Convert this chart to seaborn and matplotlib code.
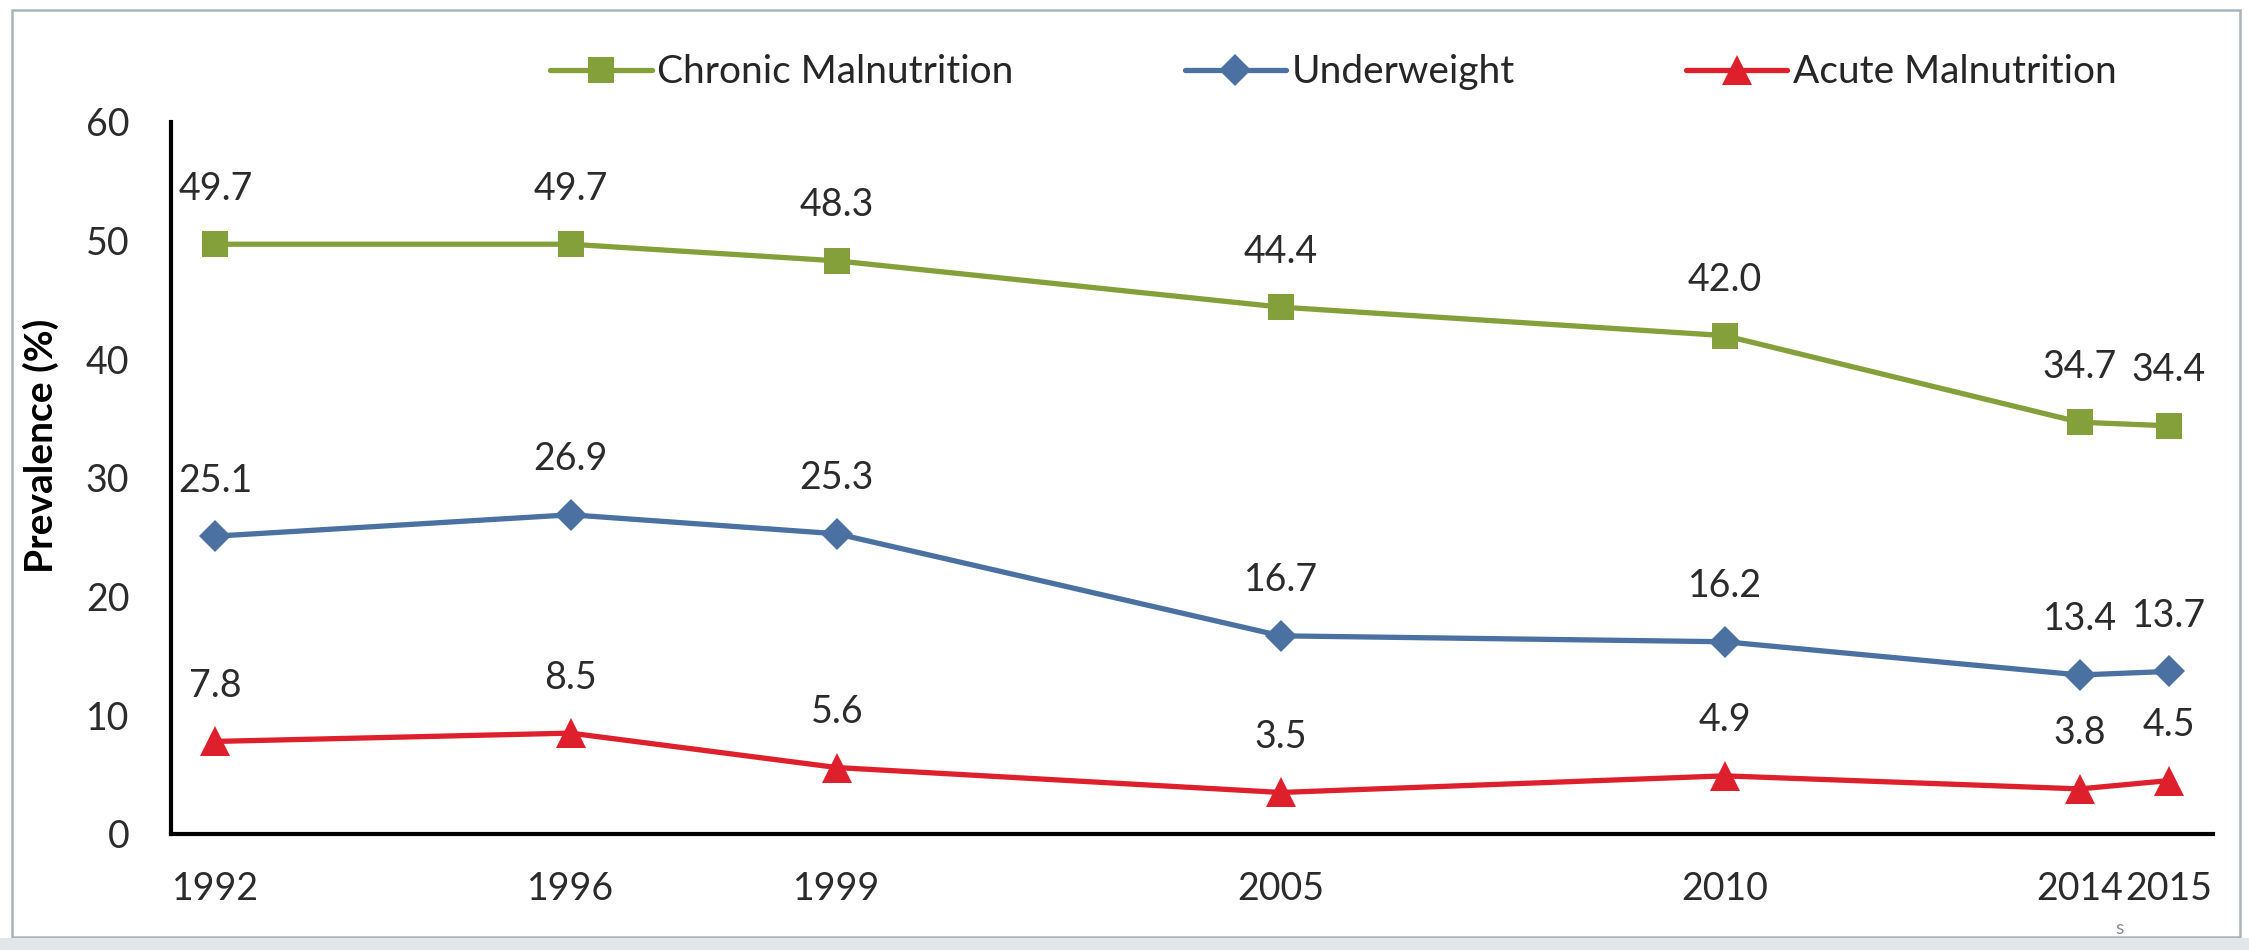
import numpy as np
import pandas as pd
import matplotlib
matplotlib.use("Agg")
import matplotlib.pyplot as plt
from matplotlib.patches import Rectangle
import seaborn as sns

# survey years and prevalence (%)
years = [1992, 1996, 1999, 2005, 2010, 2014, 2015]
chronic = [49.7, 49.7, 48.3, 44.4, 42.0, 34.7, 34.4]
underweight = [25.1, 26.9, 25.3, 16.7, 16.2, 13.4, 13.7]
acute = [7.8, 8.5, 5.6, 3.5, 4.9, 3.8, 4.5]

series_names = ["Chronic Malnutrition", "Underweight", "Acute Malnutrition"]
y_ticks = [0, 10, 20, 30, 40, 50, 60]

# the original axis has one slot per year with 2004 missing
axis_years = list(range(1992, 2004)) + list(range(2005, 2016))

sns.set_style("white")
plt.rcParams["font.family"] = ["Lato", "DejaVu Sans"]

colors = {"Chronic Malnutrition": "#83a03a",
          "Underweight": "#4a71a2",
          "Acute Malnutrition": "#de1f2c"}
markers = {"Chronic Malnutrition": "s",
           "Underweight": "D",
           "Acute Malnutrition": "^"}
marker_sizes = {"Chronic Malnutrition": 19,
                "Underweight": 16,
                "Acute Malnutrition": 21}

pos = [axis_years.index(y) for y in years]
df = pd.DataFrame({
    "pos": pos * 3,
    "value": chronic + underweight + acute,
    "series": [s for s in series_names for _ in years],
})

fig = plt.figure(figsize=(22.49, 9.5), dpi=100)
ax = fig.add_axes([171 / 2249, 1 - 834 / 950, (2213 - 171) / 2249, (834 - 122) / 950])

sns.lineplot(data=df, x="pos", y="value", hue="series", style="series",
             hue_order=series_names, style_order=series_names,
             palette=colors, markers=markers, dashes=False,
             linewidth=3.8, markersize=19, markeredgewidth=0, ax=ax)

# per-series marker size
for line, name in zip(ax.lines, series_names):
    line.set_markersize(marker_sizes[name])

# data labels
text_col = "#2b2b2b"
for vals in (chronic, underweight, acute):
    for x, v in zip(pos, vals):
        ax.annotate(f"{v:.1f}", (x, v), xytext=(0, 40), textcoords="offset points",
                    ha="center", va="center", fontsize=27, color=text_col)

ax.set_xlim(-0.5, len(axis_years) - 0.5)
ax.set_ylim(0, 60)
ax.set_yticks(y_ticks)
ax.set_xticks(pos)
ax.set_xticklabels([str(y) for y in years])
ax.set_xticks(np.arange(-0.5, len(axis_years), 1.0), minor=True)

ax.tick_params(axis="x", which="major", length=0, pad=27, labelsize=27, colors=text_col)
ax.tick_params(axis="x", which="minor", length=10, width=3, direction="out")
ax.tick_params(axis="y", which="major", length=10, width=3, direction="out",
               pad=20, labelsize=27, colors=text_col)
ax.tick_params(axis="both", which="both", color="black")

for side in ("top", "right"):
    ax.spines[side].set_visible(False)
for side in ("left", "bottom"):
    ax.spines[side].set_linewidth(3)
    ax.spines[side].set_color("black")

ax.set_xlabel("")
ax.set_ylabel("Prevalence (%)", fontsize=28, fontweight="bold", color="black")
ax.yaxis.set_label_coords(-0.055, 0.545)

handles, labels = ax.get_legend_handles_labels()
ax.get_legend().remove()
for h, name in zip(handles, labels):
    h.set_markersize(marker_sizes[name])
    h.set_linewidth(3.8)
fig.legend(handles, labels, ncol=3, loc="center", bbox_to_anchor=(0.593, 0.924),
           frameon=False, fontsize=28, handlelength=2.6, handletextpad=0.15,
           columnspacing=4.4)

# slide frame around the chart
fig.add_artist(Rectangle((12 / 2249, 1 - 937 / 950), (2240 - 12) / 2249, (937 - 10) / 950,
                         transform=fig.transFigure, fill=False,
                         edgecolor="#a9b4ba", linewidth=1.8))
fig.add_artist(Rectangle((0, 0), 1, 12 / 950, transform=fig.transFigure,
                         facecolor="#e2e6e8", edgecolor="none"))
fig.text(2120 / 2249, 1 - 928 / 950, "s", fontsize=14, color="#8a8f93",
         ha="center", va="center")

fig.savefig("out.png", dpi=100, facecolor="white")
